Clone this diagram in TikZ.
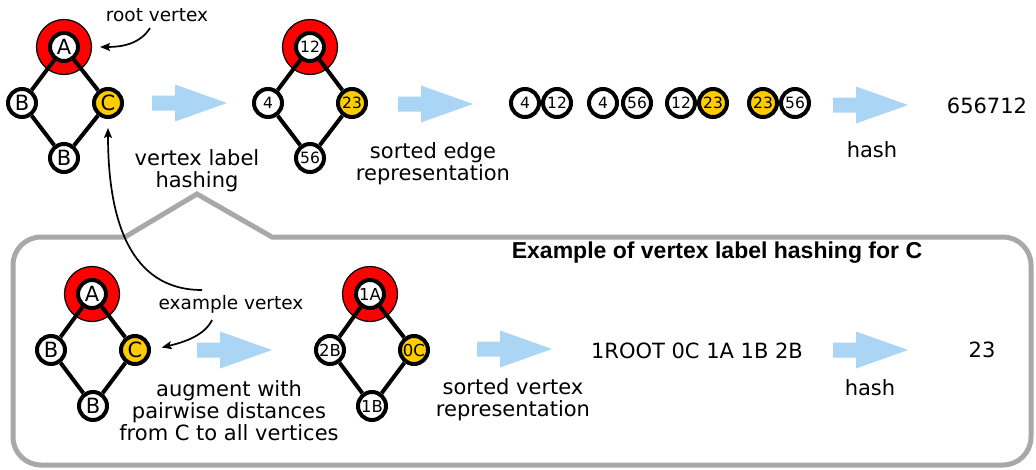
\documentclass[tikz,border=0pt]{standalone}
\usepackage{fontspec}
\setmainfont{DejaVu Sans}
\newfontfamily\headfont{Liberation Sans}
\usetikzlibrary{arrows.meta}
\definecolor{ringred}{RGB}{255,0,0}
\definecolor{hilite}{RGB}{255,204,0}
\definecolor{flowblue}{RGB}{170,213,245}
\definecolor{framegray}{RGB}{168,168,168}

\begin{document}
\begin{tikzpicture}[x=1pt, y=-1pt,
        vtx/.style={circle, draw, line width=4pt, fill=white, minimum size=28pt, inner sep=0pt, font=\fontsize{21}{21}\selectfont},
        num/.style={vtx, font=\fontsize{15.5}{15.5}\selectfont},
        dist/.style={vtx, font=\fontsize{16.5}{16.5}\selectfont},
        sel/.style={fill=hilite},
        rootring/.style={circle, draw, line width=1.2pt, fill=ringred, minimum size=55pt, inner sep=0pt},
        link/.style={line width=4pt},
        callout/.style={line width=1.7pt, -{Stealth[length=10pt, width=8pt, inset=2pt]}},
        txt/.style={font=\fontsize{21}{22}\selectfont, align=center, inner sep=0pt},
        note/.style={font=\fontsize{18.5}{22}\selectfont, inner sep=0pt},
        flow/.pic={\fill[flowblue] (0,-7.5) -- (23,-7.5) -- (23,-18.5) -- (75,0) -- (23,18.5) -- (23,7.5) -- (0,7.5) -- cycle;}]
        \useasboundingbox (0,0) rectangle (1036,469);

        \draw[framegray, line width=5pt] (272,237) -- (197,194) -- (125,237) [rounded corners=28] -- (13,237) -- (13,465) -- (1031,465) -- (1031,237) [sharp corners] -- cycle;

        \node[rootring] (tr) at (64,47) {};
        \node[vtx] (ta) at (64,47) {A};
        \node[vtx] (tb) at (22,103) {B};
        \node[vtx, sel] (tc) at (108,103) {C};
        \node[vtx] (td) at (64,158) {B};
        \draw[link] (ta) -- (tb) (ta) -- (tc) (tb) -- (td) (tc) -- (td);

        \node[rootring] (hr) at (310,47) {};
        \node[num] (ha) at (310,47) {12};
        \node[num] (hb) at (268,103) {4};
        \node[num, sel] (hc) at (352,103) {23};
        \node[num] (hd) at (310,158) {56};
        \draw[link] (ha) -- (hb) (ha) -- (hc) (hb) -- (hd) (hc) -- (hd);

        \node[num] (p1a) at (525,103) {4};
        \node[num] (p1b) at (557,103) {12};
        \node[num] (p2a) at (603,103) {4};
        \node[num] (p2b) at (637,103) {56};
        \node[num] (p3a) at (681,103) {12};
        \node[num, sel] (p3b) at (713,103) {23};
        \node[num, sel] (p4a) at (763,103) {23};
        \node[num] (p4b) at (795,103) {56};

        \pic at (152,103) {flow};
        \pic at (398,104) {flow};
        \pic at (833,105) {flow};

        \node[note] (rootlbl) at (157,15) {root vertex};
        \node[txt] (hashlbl) at (197,171) {vertex label\\hashing};
        \node[txt] (sortlbl) at (433,164) {sorted edge\\representation};
        \node[txt] (hash1) at (872,150) {hash};
        \node[txt] (res1) at (987,106) {656712};

        \node[font=\headfont\bfseries\fontsize{23}{23}\selectfont, inner sep=0pt] (title) at (717,253) {Example of vertex label hashing for C};

        \node[rootring] (er) at (92,294) {};
        \node[vtx] (ea) at (92,294) {A};
        \node[vtx] (eb) at (51,350) {B};
        \node[vtx, sel] (ec) at (135,350) {C};
        \node[vtx] (ed) at (93,406) {B};
        \draw[link] (ea) -- (eb) (ea) -- (ec) (eb) -- (ed) (ec) -- (ed);

        \node[rootring] (dr) at (370,294) {};
        \node[dist] (da) at (370,294) {1A};
        \node[dist] (db) at (330,350) {2B};
        \node[dist, sel] (dc) at (414,350) {0C};
        \node[dist] (dd) at (372,406) {1B};
        \draw[link] (da) -- (db) (da) -- (dc) (db) -- (dd) (dc) -- (dd);

        \pic at (197,350) {flow};
        \pic at (477,349) {flow};
        \pic at (833,350) {flow};

        \node[note] (exlbl) at (231,304) {example vertex};
        \node[txt] (auglbl) at (229,411) {augment with\\pairwise distances\\from C to all vertices};
        \node[txt] (vsortlbl) at (513,400) {sorted vertex\\representation};
        \node[txt] (vrep) at (697,351) {1ROOT 0C 1A 1B 2B};
        \node[txt] (hash2) at (870,388) {hash};
        \node[txt] (res2) at (982,350) {23};

        \coordinate (rs) at (150,28);
        \coordinate (evx) at (202,290);
        \coordinate (evy) at (212,320);
        \draw[callout, shorten >=8pt] (rs) .. controls (140,44) and (122,47) .. (tr.east);
        \draw[callout, shorten >=9pt] (evx) .. controls (130,290) and (108,220) .. (tc.south);
        \draw[callout, shorten >=11pt] (evy) .. controls (205,335) and (185,342) .. (ec.east);
    \end{tikzpicture}
\end{document}
